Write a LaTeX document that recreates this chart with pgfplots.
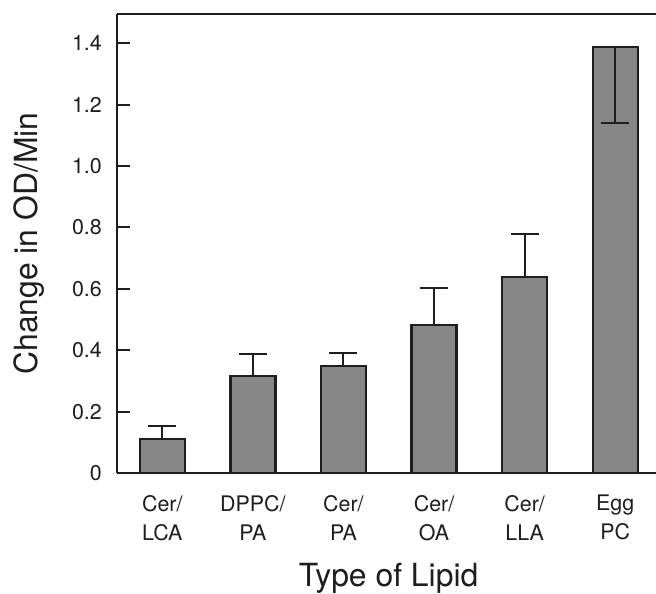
\documentclass[border=0pt]{standalone}
\usepackage{pgfplots}
\pgfplotsset{compat=1.18}
\usepackage{pgfplotstable}
\usepackage{fontspec}
\setmainfont{TeX Gyre Heros}
\definecolor{barfill}{RGB}{135,135,135}
\definecolor{ink}{RGB}{30,30,30}

\pgfplotstableread{
x y ep
0 0.111 0.042
1 0.316 0.072
2 0.349 0.042
3 0.482 0.121
4 0.638 0.142
}\mainbars
\pgfplotstableread{
x y em
5 1.388 0.248
}\eggbar

\begin{document}
\begin{tikzpicture}
\begin{axis}[
  name=ax,
  scale only axis,
  width=539bp, height=459bp,
  xmin=-0.5, xmax=5.45,
  ymin=0, ymax=1.495,
  axis x line*=bottom,
  axis y line*=left,
  axis line style={-, line width=2bp, ink},
  xtick={0,1,2,3,4,5},
  xticklabels={{Cer/\\LCA},{DPPC/\\PA},{Cer/\\PA},{Cer/\\OA},{Cer/\\LLA},{Egg\\PC}},
  xtick style={draw=none},
  xticklabel style={align=center, anchor=north, inner sep=0pt, yshift=-22bp,
    font=\fontsize{21.5}{29}\selectfont, text=ink},
  ytick={0,0.2,0.4,0.6,0.8,1.0,1.2,1.4},
  yticklabels={0,0.2,0.4,0.6,0.8,1.0,1.2,1.4},
  ytick style={line width=2bp, ink},
  tick align=inside,
  major tick length=13bp,
  yticklabel style={anchor=east, inner sep=0pt, xshift=-15bp,
    font=\fontsize{21.5}{26}\selectfont, text=ink},
  xlabel={Type of Lipid},
  ylabel={Change in OD/Min},
  every axis x label/.style={at={(axis description cs:0.504,-0.2462)}, anchor=base,
    font=\fontsize{32}{38}\selectfont, text=ink},
  every axis y label/.style={at={(axis description cs:-0.1484,0.5)}, rotate=90, anchor=base,
    font=\fontsize{32}{38}\selectfont, text=ink},
  clip=false,
]
\addplot[ybar, bar width=45bp, bar shift=0pt, fill=barfill, draw=ink, line width=2.4bp,
  error bars/.cd, y dir=plus, y explicit,
  error bar style={line width=2bp, ink},
  error mark options={rotate=90, mark size=14bp, line width=2bp, ink}]
  table[x=x, y=y, y error=ep] {\mainbars};
\addplot[ybar, bar width=45bp, bar shift=0pt, fill=barfill, draw=ink, line width=2.4bp,
  error bars/.cd, y dir=minus, y explicit,
  error bar style={line width=2bp, ink},
  error mark options={rotate=90, mark size=14bp, line width=2bp, ink}]
  table[x=x, y=y, y error=em] {\eggbar};
\draw[line width=2bp, ink] (rel axis cs:0,1) -- (rel axis cs:1,1);
\end{axis}
\pgfresetboundingbox
\path[use as bounding box] ([shift={(-117bp,-121bp)}]ax.south west) rectangle ([shift={(0bp,14bp)}]ax.north east);
\end{tikzpicture}
\end{document}
